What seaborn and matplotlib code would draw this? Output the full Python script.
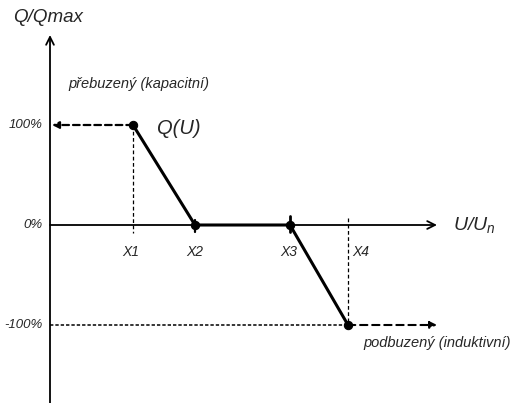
import matplotlib
matplotlib.use("Agg")
import matplotlib.pyplot as plt
import seaborn as sns

# characteristic Q(U): breakpoints (arbitrary U units) and Q/Qmax in %
u_points = [83, 145, 240, 298]
q_points = [100, 0, 0, -100]
point_labels = ["X1", "X2", "X3", "X4"]
label_dx = [-2, 0, -1, 13]
y_ticks = [100, 0, -100]
y_tick_labels = ["100%", "0%", "-100%"]

sns.set_style("white")
plt.rcParams['font.family'] = ['Liberation Sans', 'DejaVu Sans']
plt.rcParams['mathtext.fontset'] = 'custom'
plt.rcParams['mathtext.it'] = 'Liberation Sans:italic'
plt.rcParams['mathtext.rm'] = 'Liberation Sans:italic'

fig = plt.figure(figsize=(5.11, 4.03), dpi=100)
ax = fig.add_axes([0, 0, 1, 1])
ax.set_xlim(-50, 461)
ax.set_ylim(-178, 225)
ax.axis("off")

# axes with open arrowheads
ax.annotate("", xy=(0, 190), xytext=(0, -178),
            arrowprops=dict(arrowstyle="->", lw=1.3, color="black",
                            mutation_scale=14, shrinkA=0, shrinkB=0))
ax.annotate("", xy=(387, 0), xytext=(0, 0),
            arrowprops=dict(arrowstyle="->", lw=1.3, color="black",
                            mutation_scale=14, shrinkA=0, shrinkB=0))

# dashed limit lines
ax.annotate("", xy=(2, 100), xytext=(u_points[0], 100),
            arrowprops=dict(arrowstyle="-|>", lw=1.6, ls=(0, (3, 1.8)), color="black",
                            mutation_scale=10, shrinkA=0, shrinkB=0))
ax.plot([0, u_points[3]], [-100, -100], ls=(0, (2.2, 1.3)), lw=1.1, color="black")
ax.annotate("", xy=(387, -100), xytext=(u_points[3], -100),
            arrowprops=dict(arrowstyle="-|>", lw=1.5, ls=(0, (3.5, 2.3)), color="black",
                            mutation_scale=10, shrinkA=0, shrinkB=0))
ax.plot([u_points[0], u_points[0]], [100, -8], ls=(0, (3, 2)), lw=0.9, color="black")
ax.plot([u_points[3], u_points[3]], [7, -100], ls=(0, (3, 2)), lw=0.9, color="black")
ax.plot([u_points[1], u_points[1]], [5, -7], lw=1.6, color="black")
ax.plot([u_points[2], u_points[2]], [9, -7], lw=2.0, color="black")

# Q(U) curve
sns.lineplot(x=u_points, y=q_points, sort=False, ax=ax, color="black", lw=2.2,
             marker="o", markersize=6, markeredgecolor="black")

for u, lab, dx in zip(u_points, point_labels, label_dx):
    ax.text(u + dx, -27, lab, ha="center", va="center", style="italic", fontsize=10)
for yv, lab in zip(y_ticks, y_tick_labels):
    ax.text(-7, yv, lab, ha="right", va="center", style="italic", fontsize=9.5)

ax.text(-37, 207, "Q/Qmax", ha="left", va="center", style="italic", fontsize=13.5)
ax.text(403, 0, "$U/U_n$", ha="left", va="center", fontsize=14)
ax.text(107, 97, "Q(U)", ha="left", va="center", style="italic", fontsize=14.5)
ax.text(18, 141, "přebuzený (kapacitní)", ha="left", va="center",
        style="italic", fontsize=10.5)
ax.text(313, -118, "podbuzený (induktivní)", ha="left", va="center",
        style="italic", fontsize=10.5)

fig.savefig("out.png", dpi=100)
